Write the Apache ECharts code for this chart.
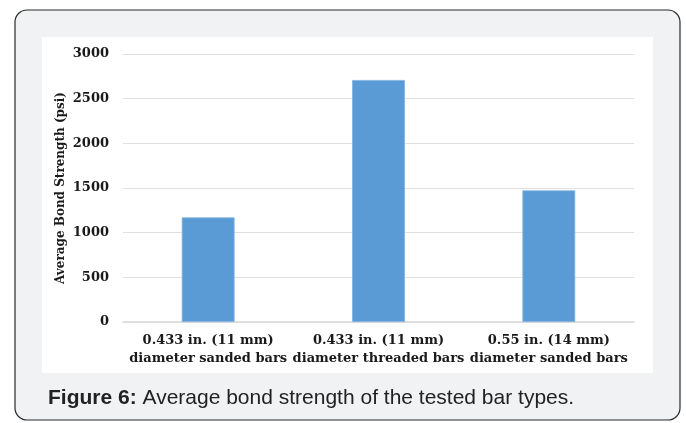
<!DOCTYPE html>
<html>
<head>
<meta charset="utf-8">
<script src="https://cdn.jsdelivr.net/npm/echarts@6/dist/echarts.min.js"></script>
<style>
  html, body { margin: 0; padding: 0; background: #ffffff; }
  #chart { width: 686px; height: 423px; }
</style>
</head>
<body>
<div id="chart"></div>
<script>
// Bar categories (two-line labels) and average bond strength values, psi
const categories = [
  '0.433 in. (11 mm)\ndiameter sanded bars',
  '0.433 in. (11 mm)\ndiameter threaded bars',
  '0.55 in. (14 mm)\ndiameter sanded bars'
];
const bondStrength = [1171, 2709, 1473];

const yAxisTitle = 'Average Bond Strength (psi)';
const captionLead = 'Figure 6:';
const captionText = ' Average bond strength of the tested bar types.';

const serif = '"DejaVu Serif", serif';
const sans = '"Liberation Sans", Arial, sans-serif';

const chart = echarts.init(document.getElementById('chart'), null, { renderer: 'canvas' });

chart.setOption({
  animation: false,
  backgroundColor: '#ffffff',
  graphic: [
    {
      type: 'rect', z: -10, silent: true,
      shape: { x: 15, y: 10, width: 665, height: 410, r: 12 },
      style: { fill: '#f1f2f4', stroke: '#2b2b2b', lineWidth: 1.2 }
    },
    {
      type: 'rect', z: -9, silent: true,
      shape: { x: 42, y: 37, width: 611, height: 336 },
      style: { fill: '#ffffff' }
    },
    {
      type: 'text', z: 5, left: 48, top: 388,
      style: {
        text: '{b|' + captionLead + '}{n|' + captionText + '}',
        rich: {
          b: { fontFamily: sans, fontSize: 21, fontWeight: 'bold', fill: '#222222' },
          n: { fontFamily: sans, fontSize: 21, fill: '#222222' }
        }
      }
    }
  ],
  grid: { left: 123, right: 52, top: 54, bottom: 101, containLabel: false },
  xAxis: {
    type: 'category',
    data: categories,
    axisLine: { show: true, lineStyle: { color: '#d9d9d9', width: 1.5 } },
    axisTick: { show: false },
    axisLabel: {
      interval: 0, margin: 10,
      fontFamily: serif, fontWeight: 'bold', fontSize: 13, lineHeight: 18,
      color: '#1a1a1a'
    }
  },
  yAxis: {
    type: 'value', min: 0, max: 3000, interval: 500,
    name: yAxisTitle, nameLocation: 'middle', nameGap: 56, nameMoveOverlap: false,
    nameTextStyle: { fontFamily: serif, fontWeight: 'bold', fontSize: 12, color: '#1a1a1a' },
    axisLine: { show: false },
    axisTick: { show: false },
    axisLabel: {
      margin: 14, fontFamily: serif, fontWeight: 'bold', fontSize: 13, color: '#1a1a1a',
      formatter: (v) => String(v)
    },
    splitLine: { lineStyle: { color: '#e0e0e0', width: 1.2 } }
  },
  series: [{
    type: 'bar',
    data: bondStrength,
    barWidth: '31%',
    itemStyle: { color: '#5b9bd5', borderColor: '#7fb2e0', borderWidth: 0.8 }
  }]
});
</script>
</body>
</html>
